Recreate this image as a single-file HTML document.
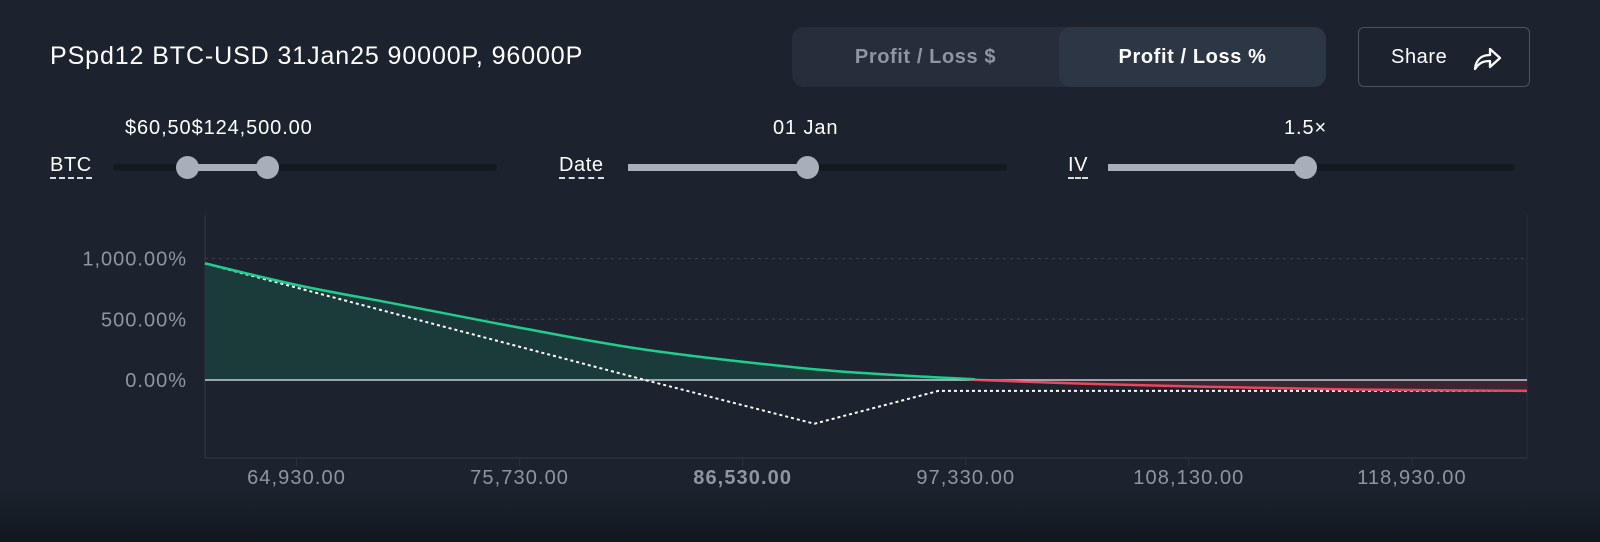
<!DOCTYPE html>
<html><head><meta charset="utf-8"><style>
html,body{margin:0;padding:0;width:1600px;height:542px;overflow:hidden;background:#1c232e;font-family:"Liberation Sans",sans-serif;color:#fff}
.abs{position:absolute}
.title{left:50px;top:42px;font-size:25px;letter-spacing:0.9px;white-space:nowrap}
.toggle{left:792px;top:27px;width:534px;height:60px;background:#252e3a;border-radius:12px}
.tbtn{top:0;height:60px;line-height:60px;text-align:center;font-size:20px;letter-spacing:0.6px;font-weight:bold;border-radius:12px}
.share{left:1358px;top:27px;width:170px;height:58px;border:1.5px solid #4b535e;border-radius:6px;font-size:20px;letter-spacing:0.6px;line-height:58px}
.lbl{font-size:20px;letter-spacing:0.6px;border-bottom:2px dashed #ddd;line-height:23px}
.track{height:7px;background:#131a22;border-radius:3px}
.fill{height:7px;background:#a7afbb}
.thumb{width:23px;height:23px;border-radius:50%;background:#a7afbb}
.val{font-size:20px;letter-spacing:0.9px;white-space:nowrap}
</style></head><body>
<div class="abs title">PSpd12 BTC-USD 31Jan25 90000P, 96000P</div>
<div class="abs toggle">
 <div class="abs tbtn" style="left:0;width:267px;color:#8e96a2">Profit / Loss $</div>
 <div class="abs tbtn" style="left:267px;width:267px;background:#2d3645;color:#fff">Profit / Loss %</div>
</div>
<div class="abs share"><span style="position:absolute;left:32px">Share</span>
<svg style="position:absolute;left:112px;top:16px" width="32" height="28" viewBox="0 0 32 28"><path d="M4 25 C5 15 11 11 19 11 L19 5 L29 14 L19 23 L19 17 C12 17 8 19 4 25 Z" fill="none" stroke="#fff" stroke-width="2.3" stroke-linejoin="round"/></svg></div>

<div class="abs val" style="left:125px;top:117px">$60,50$124,500.00</div>
<div class="abs lbl" style="left:50px;top:154px">BTC</div>
<div class="abs track" style="left:113px;top:164px;width:384px"></div>
<div class="abs fill" style="left:187px;top:164px;width:80px"></div>
<div class="abs thumb" style="left:176px;top:156px"></div>
<div class="abs thumb" style="left:256px;top:156px"></div>

<div class="abs val" style="left:773px;top:117px">01 Jan</div>
<div class="abs lbl" style="left:559px;top:154px">Date</div>
<div class="abs track" style="left:628px;top:164px;width:379px"></div>
<div class="abs fill" style="left:628px;top:164px;width:179px"></div>
<div class="abs thumb" style="left:796px;top:156px"></div>

<div class="abs val" style="left:1284px;top:117px">1.5×</div>
<div class="abs lbl" style="left:1068px;top:154px">IV</div>
<div class="abs track" style="left:1108px;top:164px;width:407px"></div>
<div class="abs fill" style="left:1108px;top:164px;width:197px"></div>
<div class="abs thumb" style="left:1294px;top:156px"></div>

<div class="abs" style="left:0;top:490px;width:1600px;height:52px;background:linear-gradient(#1c232e,#12171e)"></div>
<svg id="chart" class="abs" style="left:0;top:0" width="1600" height="542"></svg>
<script>
const xTicks=[64930,75730,86530,97330,108130,118930];
const xTickLabels=["64,930.00","75,730.00","86,530.00","97,330.00","108,130.00","118,930.00"];
const yTicks=[0,500,1000];
const yTickLabels=["0.00%","500.00%","1,000.00%"];
const currentPrices=[60500,65000,69940,75750,81800,89300,94000,97530,98000,103000,108660,116000,124500];
const currentPnl=[960,780,620,430,250,100,40,8,0,-30,-55,-78,-90];
const expiryPrices=[60500,81800,90000,96000,124500];
const expiryPnl=[960,0,-360,-90,-90];
const X0=205,X1=1527,D0=60500,D1=124500;
const sx=v=>X0+(v-D0)/(D1-D0)*(X1-X0);
const sy=v=>380-v*0.1215;
const svg=document.getElementById('chart');const NS='http://www.w3.org/2000/svg';
function mk(t,a){const e=document.createElementNS(NS,t);for(const k in a)e.setAttribute(k,a[k]);svg.appendChild(e);return e;}
svg.innerHTML='<defs><clipPath id="up"><rect x="0" y="0" width="1600" height="380"/></clipPath><clipPath id="dn"><rect x="0" y="380" width="1600" height="200"/></clipPath></defs>';
const FONT='Liberation Sans';
const ax=mk('line',{x1:205,x2:205,y1:215,y2:458,stroke:'#2a3240','stroke-width':1.5});

const ax2=mk('line',{x1:205,x2:1527,y1:458,y2:458,stroke:'#2a3240','stroke-width':1.5});

mk('line',{x1:1527,x2:1527,y1:215,y2:458,stroke:'#2a3240','stroke-width':1});
yTicks.forEach((v,i)=>{
 if(v!==0){const g=mk('line',{x1:205,x2:1527,y1:sy(v),y2:sy(v),stroke:'#3a4350','stroke-dasharray':'3 4'});
 }
 const t=mk('text',{x:187,y:sy(v)+7,'text-anchor':'end',fill:'#8e96a2','font-size':20,'letter-spacing':1,'font-family':FONT});
 t.textContent=yTickLabels[i];
});
xTicks.forEach((v,i)=>{
 mk('line',{x1:sx(v),x2:sx(v),y1:458,y2:466,stroke:'#2a3240'});
 const t=mk('text',{x:sx(v),y:484,'text-anchor':'middle',fill:'#8e96a2','font-size':20,'letter-spacing':1.1,'font-family':FONT,'font-weight':i==2?'bold':'normal'});
 t.textContent=xTickLabels[i];
});
const pts=currentPrices.map((p,i)=>[sx(p),sy(currentPnl[i])]);
let d='M'+pts[0][0]+' '+pts[0][1];
for(let i=0;i<pts.length-1;i++){
 const p0=pts[Math.max(0,i-1)],p1=pts[i],p2=pts[i+1],p3=pts[Math.min(pts.length-1,i+2)];
 d+=` C${p1[0]+(p2[0]-p0[0])/6} ${p1[1]+(p2[1]-p0[1])/6} ${p2[0]-(p3[0]-p1[0])/6} ${p2[1]-(p3[1]-p1[1])/6} ${p2[0]} ${p2[1]}`;
}
const area=d+` L${sx(D1)} 380 L${sx(D0)} 380 Z`;
const a1=mk('path',{d:area,fill:'#1b3a3a','clip-path':'url(#up)'});

const a2=mk('path',{d:area,fill:'#3a2530','clip-path':'url(#dn)'});

const z=mk('line',{x1:205,x2:1527,y1:380,y2:380,stroke:'#c8ccd2','stroke-width':1.5});

const ex=mk('path',{d:expiryPrices.map((p,i)=>(i?'L':'M')+sx(p)+' '+sy(expiryPnl[i])).join(' '),fill:'none',stroke:'#fff','stroke-width':2,'stroke-dasharray':'3 3'});

const c1=mk('path',{d:d,fill:'none',stroke:'#1fce8e','stroke-width':2.5,'clip-path':'url(#up)'});

const c2=mk('path',{d:d,fill:'none',stroke:'#e8475f','stroke-width':2.5,'clip-path':'url(#dn)'});

</script>
</body></html>
